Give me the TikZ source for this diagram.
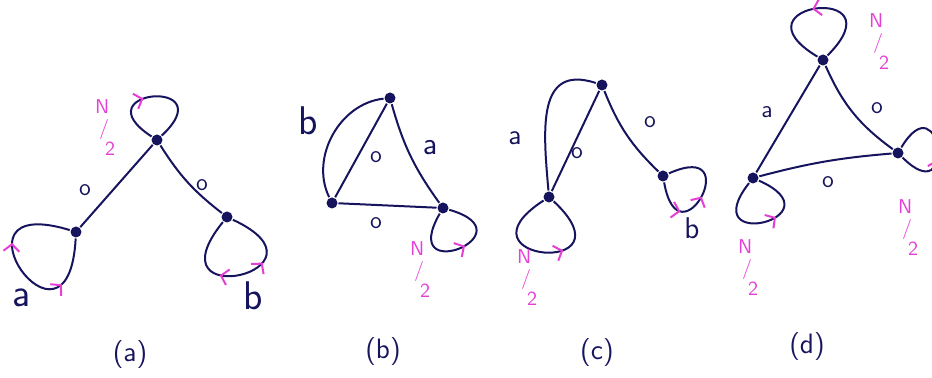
\documentclass[tikz,border=0pt]{standalone}
\usetikzlibrary{arrows.meta, decorations.markings}
\definecolor{cink}{HTML}{17145E}
\definecolor{cpink}{HTML}{E540D5}
\tikzset{
  every picture/.style={font=\sffamily, line width=1pt, x=0.5pt, y=0.5pt},
  dot/.style={circle, fill=cink, inner sep=0pt, minimum size=5.5pt},
  wire/.style={draw=cink, line width=1pt},
  lab/.style={text=cink, inner sep=0pt, font=\sffamily\fontsize{#1}{#1}\selectfont},
  lab/.default=12,
  half/.style={text=cpink, align=left, inner sep=0pt, font=\sffamily\fontsize{10}{10.5}\selectfont},
  captext/.style={text=cink, inner sep=0pt, font=\sffamily\fontsize{14}{14}\selectfont},
  fwdmark/.style={postaction={decorate, decoration={markings, mark=at position #1 with {\arrow[cpink]{Straight Barb[length=3.5pt, width=8pt]}}}}},
  backmark/.style={postaction={decorate, decoration={markings, mark=at position #1 with {\arrowreversed[cpink]{Straight Barb[length=3.5pt, width=8pt]}}}}},
}
\newcommand{\halfN}{N\\\hspace*{2pt}/\\\hspace*{5pt}2}

\begin{document}
\begin{tikzpicture}
  \useasboundingbox (0,0) rectangle (932,378);
  % panel (a)
  \node[dot] (at) at (157,238) {};
  \node[dot] (al) at (76,146) {};
  \node[dot] (ar) at (227,161) {};
  \draw[wire] (at) -- (al);
  \draw[wire] (at) to[bend right=10] (ar);
  \draw[wire, fwdmark=0.42] (at) to[out=147, in=43, min distance=43pt] (at);
  \draw[wire, backmark=0.25, fwdmark=0.65] (al) to[out=267, in=163, min distance=68pt] (al);
  \draw[wire, backmark=0.35, fwdmark=0.62] (ar) to[out=335, in=231, min distance=60pt] (ar);
  \node[half] (an) at (105,250) {\halfN};
  \node[lab] (ao1) at (85,188) {o};
  \node[lab] (ao2) at (202,193) {o};
  \node[lab=20] (aa) at (22,80) {a};
  \node[lab=20] (ab) at (253,82) {b};
  \node[captext] (acap) at (130,23) {(a)};
  % panel (b)
  \node[dot] (bt) at (390,280) {};
  \node[dot] (bl) at (332,175) {};
  \node[dot] (br) at (443,170) {};
  \draw[wire] (bt) -- (bl);
  \draw[wire] (bt) to[bend right=55] (bl);
  \draw[wire] (bt) to[bend right=10] (br);
  \draw[wire] (bl) -- (br);
  \draw[wire, backmark=0.45] (br) to[out=344, in=240, min distance=43pt] (br);
  \node[lab=20] (bb) at (308,257) {b};
  \node[lab] (bo1) at (376,221) {o};
  \node[lab=16] (ba) at (430,230) {a};
  \node[lab] (bo2) at (376,155) {o};
  \node[half] (bn) at (420,108) {\halfN};
  \node[captext] (bcap) at (383,26) {(b)};
  % panel (c)
  \node[dot] (ct) at (602,293) {};
  \node[dot] (cl) at (549,181) {};
  \node[dot] (cr) at (663,202) {};
  \draw[wire] (ct) -- (cl);
  \draw[wire] (ct) to[out=162, in=95, looseness=1.35] (cl);
  \draw[wire] (ct) to[bend right=12] (cr);
  \draw[wire, backmark=0.38] (cl) to[out=317, in=213, min distance=56pt] (cl);
  \draw[wire, backmark=0.5, backmark=0.72] (cr) to[out=24, in=280, min distance=43pt] (cr);
  \node[lab=14] (ca) at (515,240) {a};
  \node[lab] (co1) at (577,225) {o};
  \node[lab] (co2) at (650,256) {o};
  \node[lab=15] (cb) at (692,150) {b};
  \node[half] (cn) at (527,100) {\halfN};
  \node[captext] (ccap) at (597,25) {(c)};
  % panel (d)
  \node[dot] (dt) at (823,318) {};
  \node[dot] (dl) at (753,200) {};
  \node[dot] (dr) at (898,225) {};
  \draw[wire] (dt) -- (dl);
  \draw[wire] (dt) to[bend right=15] (dr);
  \draw[wire] (dl) to[bend left=5] (dr);
  \draw[wire, backmark=0.47] (dt) to[out=149, in=45, min distance=52pt] (dt);
  \draw[wire, backmark=0.4] (dl) to[out=336, in=232, min distance=45pt] (dl);
  \draw[wire, backmark=0.6] (dr) to[out=59, in=315, min distance=39pt] (dr);
  \node[lab=12] (da) at (767,266) {a};
  \node[lab] (do1) at (877,270) {o};
  \node[lab] (do2) at (828,196) {o};
  \node[half] (dn1) at (879,336) {\halfN};
  \node[half] (dn2) at (908,150) {\halfN};
  \node[half] (dn3) at (748,110) {\halfN};
  \node[captext] (dcap) at (807,31) {(d)};
\end{tikzpicture}
\end{document}
